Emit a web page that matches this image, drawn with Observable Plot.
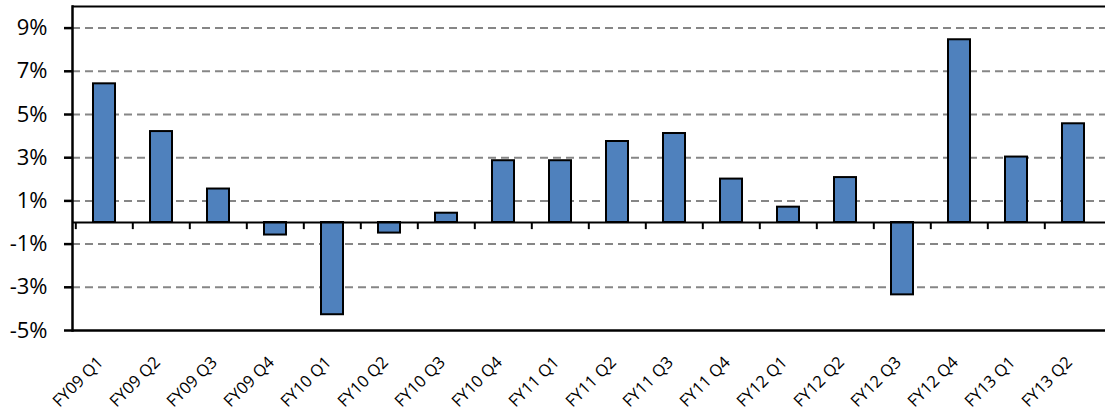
<!DOCTYPE html>
<html>
<head>
<meta charset="utf-8">
<script src="https://cdn.jsdelivr.net/npm/d3@7"></script>
<script src="https://cdn.jsdelivr.net/npm/@observablehq/plot@0.6"></script>
<style>
  html, body { margin: 0; padding: 0; background: #fff; }
  svg { font-family: "Open Sans", sans-serif; }
</style>
</head>
<body>
<div id="chart"></div>
<script>
const categories = ["FY09 Q1","FY09 Q2","FY09 Q3","FY09 Q4","FY10 Q1","FY10 Q2","FY10 Q3","FY10 Q4","FY11 Q1","FY11 Q2","FY11 Q3","FY11 Q4","FY12 Q1","FY12 Q2","FY12 Q3","FY12 Q4","FY13 Q1","FY13 Q2"];
const values = [6.42, 4.21, 1.55, -0.58, -4.27, -0.49, 0.43, 2.86, 2.86, 3.75, 4.12, 2.01, 0.71, 2.08, -3.35, 8.46, 3.03, 4.57];
const yTicks = [-5, -3, -1, 1, 3, 5, 7, 9];
const gridValues = [-3, -1, 1, 3, 5, 7, 9];

const W = 1107, H = 413, mL = 72, mR = 2, mT = 6, mB = 83;
const step = (W - mL - mR) / categories.length;

const chart = Plot.plot({
  width: W,
  height: H,
  marginLeft: mL,
  marginRight: mR,
  marginTop: mT,
  marginBottom: mB,
  style: { color: "black", background: "white", fontFamily: "Open Sans" },
  x: { type: "band", domain: categories, paddingInner: 0.62, paddingOuter: 0.31 },
  y: { domain: [-5, 10] },
  marks: [
    Plot.ruleY(gridValues, { stroke: "#868686", strokeWidth: 2, strokeDasharray: "8,5" }),
    Plot.barY(values, { x: (d, i) => categories[i], y: d => d, fill: "#4F81BD", stroke: "black", strokeWidth: 2 }),
    Plot.ruleY([0], { stroke: "black", strokeWidth: 2 }),
    Plot.ruleX(categories, { x: d => d, y1: 0, y2: -0.33, dx: -step / 2, stroke: "black", strokeWidth: 2 }),
    Plot.ruleY([10], { stroke: "black", strokeWidth: 2 }),
    Plot.ruleY([-5], { stroke: "black", strokeWidth: 2.5 }),
    Plot.frame({ anchor: "left", stroke: "black", strokeWidth: 2.5 }),
    Plot.axisY({ ticks: yTicks, tickSize: 8, tickPadding: 17, tickFormat: d => d + "%", fontSize: 22, strokeWidth: 2.5 }),
    Plot.axisX({ tickRotate: -45, tickSize: 0, tickPadding: 24, dx: -4, dy: 5, fontSize: 16.5 })
  ]
});
document.getElementById("chart").appendChild(chart);
</script>
</body>
</html>
